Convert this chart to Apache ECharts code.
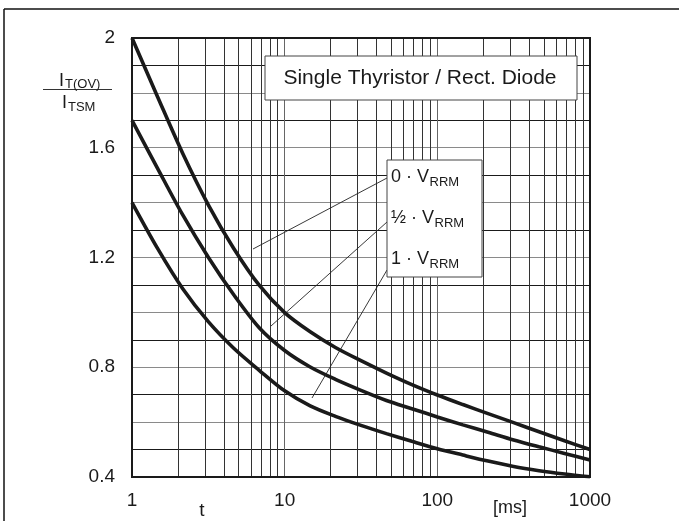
<!DOCTYPE html>
<html>
<head>
<meta charset="utf-8">
<script src="https://cdn.jsdelivr.net/npm/echarts@6/dist/echarts.min.js"></script>
<style>html,body{margin:0;padding:0;background:#fff}#c{width:679px;height:521px}</style>
</head>
<body>
<div id="c"></div>
<script>
// time axis values [ms], read at ~1/6 decade steps
const tValues = [1, 1.47, 2.15, 3.16, 4.64, 6.81, 10, 14.7, 21.5, 31.6, 46.4, 68.1, 100, 147, 215, 316, 464, 681, 1000];
// 0 · VRRM
const curve0 = [2.0, 1.786, 1.579, 1.392, 1.233, 1.099, 0.999, 0.929, 0.872, 0.824, 0.779, 0.737, 0.699, 0.664, 0.631, 0.598, 0.565, 0.532, 0.50];
// 1/2 · VRRM
const curveHalf = [1.70, 1.525, 1.355, 1.201, 1.064, 0.944, 0.861, 0.801, 0.756, 0.716, 0.679, 0.649, 0.619, 0.590, 0.563, 0.535, 0.510, 0.486, 0.462];
// 1 · VRRM
const curve1 = [1.40, 1.233, 1.086, 0.966, 0.869, 0.789, 0.714, 0.659, 0.621, 0.588, 0.558, 0.530, 0.503, 0.480, 0.458, 0.438, 0.423, 0.411, 0.401];
// minor vertical grid lines
const minorX = [2,3,4,5,6,7,8,9,20,30,40,50,60,70,80,90,200,300,400,500,600,700,800,900];
const yLabelValues = [0.4, 0.8, 1.2, 1.6, 2];
const legendLabels = ['0 · V', '½ · V', '1 · V'];
const legendSub = 'RRM';
const titleText = 'Single Thyristor / Rect. Diode';

const FONT = 'Liberation Sans';
const pair = (arr) => tValues.map((t, i) => [t, arr[i]]);
const ctx = document.createElement('canvas').getContext('2d');
const measure = (txt, size) => { ctx.font = size + 'px "' + FONT + '"'; return ctx.measureText(txt).width; };

const chart = echarts.init(document.getElementById('c'), null, {renderer: 'canvas'});
const lineSeries = (name, arr) => ({
  name, type: 'line', data: pair(arr), smooth: 0.3, symbol: 'none', silent: true,
  lineStyle: {color: '#1a1a1a', width: 3.6}, z: 5
});

const legendY = [177, 218, 259];
const legendGraphics = [];
legendLabels.forEach((lab, i) => {
  const w = measure(lab, 18);
  legendGraphics.push({type: 'text', x: 391, y: legendY[i], style: {text: lab, font: '18px "' + FONT + '"', fill: '#1a1a1a', verticalAlign: 'middle'}, z: 21});
  legendGraphics.push({type: 'text', x: 391 + w + 0.5, y: legendY[i] + 5, style: {text: legendSub, font: '13px "' + FONT + '"', fill: '#1a1a1a', verticalAlign: 'middle'}, z: 21});
});

chart.setOption({
  animation: false,
  backgroundColor: '#fff',
  grid: {left: 132, right: 89, top: 38, bottom: 44, show: true, borderColor: '#1a1a1a', borderWidth: 2, backgroundColor: 'transparent', z: 6},
  xAxis: {
    type: 'log', logBase: 10, min: 1, max: 1000,
    axisLine: {show: true, lineStyle: {color: '#1a1a1a', width: 2}},
    axisTick: {show: false},
    axisLabel: {color: '#1a1a1a', fontSize: 19, fontFamily: FONT, margin: 14, formatter: (v) => String(v)},
    splitLine: {show: true, lineStyle: {color: '#666', width: 1}}
  },
  yAxis: {
    type: 'value', min: 0.4, max: 2, interval: 0.1,
    axisLine: {show: true, lineStyle: {color: '#1a1a1a', width: 2}},
    axisTick: {show: false},
    axisLabel: {
      color: '#1a1a1a', fontSize: 19, fontFamily: FONT, margin: 17,
      formatter: (v) => yLabelValues.some(l => Math.abs(l - v) < 1e-6) ? String(Math.round(v * 10) / 10) : ''
    },
    splitLine: {show: true, lineStyle: {color: ['#8a8a8a', '#1a1a1a'], width: 1}}
  },
  series: [
    Object.assign(lineSeries('0 · VRRM', curve0), {
      markLine: {
        silent: true, symbol: 'none', label: {show: false},
        lineStyle: {color: '#333', width: 1, type: 'solid'},
        data: minorX.map(v => ({xAxis: v})), z: 1
      }
    }),
    lineSeries('1/2 · VRRM', curveHalf),
    lineSeries('1 · VRRM', curve1)
  ],
  graphic: [
    // outer frame
    {type: 'line', shape: {x1: 4, y1: 9, x2: 679, y2: 9}, style: {stroke: '#111', lineWidth: 1.5}},
    {type: 'line', shape: {x1: 4, y1: 9, x2: 4, y2: 521}, style: {stroke: '#111', lineWidth: 1.5}},
    // title box
    {type: 'rect', shape: {x: 265, y: 56, width: 312, height: 44}, style: {fill: '#fff', stroke: '#444', lineWidth: 1}, z: 20},
    {type: 'text', x: 420, y: 78, style: {text: titleText, font: '21px "' + FONT + '"', fill: '#1a1a1a', align: 'center', verticalAlign: 'middle'}, z: 21},
    // legend box
    {type: 'rect', shape: {x: 387, y: 160, width: 95, height: 117}, style: {fill: '#fff', stroke: '#444', lineWidth: 1}, z: 20},
    ...legendGraphics,
    // leader lines
    {type: 'line', shape: {x1: 387, y1: 178, x2: 253, y2: 249}, style: {stroke: '#222', lineWidth: 0.9}, z: 19},
    {type: 'line', shape: {x1: 387, y1: 222, x2: 271, y2: 326}, style: {stroke: '#222', lineWidth: 0.9}, z: 19},
    {type: 'line', shape: {x1: 387, y1: 270, x2: 312, y2: 398}, style: {stroke: '#222', lineWidth: 0.9}, z: 19},
    // y axis name (fraction)
    {type: 'text', x: 59, y: 81, style: {text: 'I', font: '18px "' + FONT + '"', fill: '#1a1a1a', verticalAlign: 'middle'}, z: 21},
    {type: 'text', x: 65, y: 84, style: {text: 'T(OV)', font: '13px "' + FONT + '"', fill: '#1a1a1a', verticalAlign: 'middle'}, z: 21},
    {type: 'line', shape: {x1: 43, y1: 89.5, x2: 112, y2: 89.5}, style: {stroke: '#333', lineWidth: 1.2}},
    {type: 'text', x: 62, y: 103, style: {text: 'I', font: '18px "' + FONT + '"', fill: '#1a1a1a', verticalAlign: 'middle'}, z: 21},
    {type: 'text', x: 68, y: 107, style: {text: 'TSM', font: '13px "' + FONT + '"', fill: '#1a1a1a', verticalAlign: 'middle'}, z: 21},
    // x axis names
    {type: 'text', x: 202, y: 511, style: {text: 't', font: '19px "' + FONT + '"', fill: '#1a1a1a', align: 'center', verticalAlign: 'middle'}, z: 21},
    {type: 'text', x: 510, y: 508, style: {text: '[ms]', font: '18px "' + FONT + '"', fill: '#1a1a1a', align: 'center', verticalAlign: 'middle'}, z: 21}
  ]
});
</script>
</body>
</html>
